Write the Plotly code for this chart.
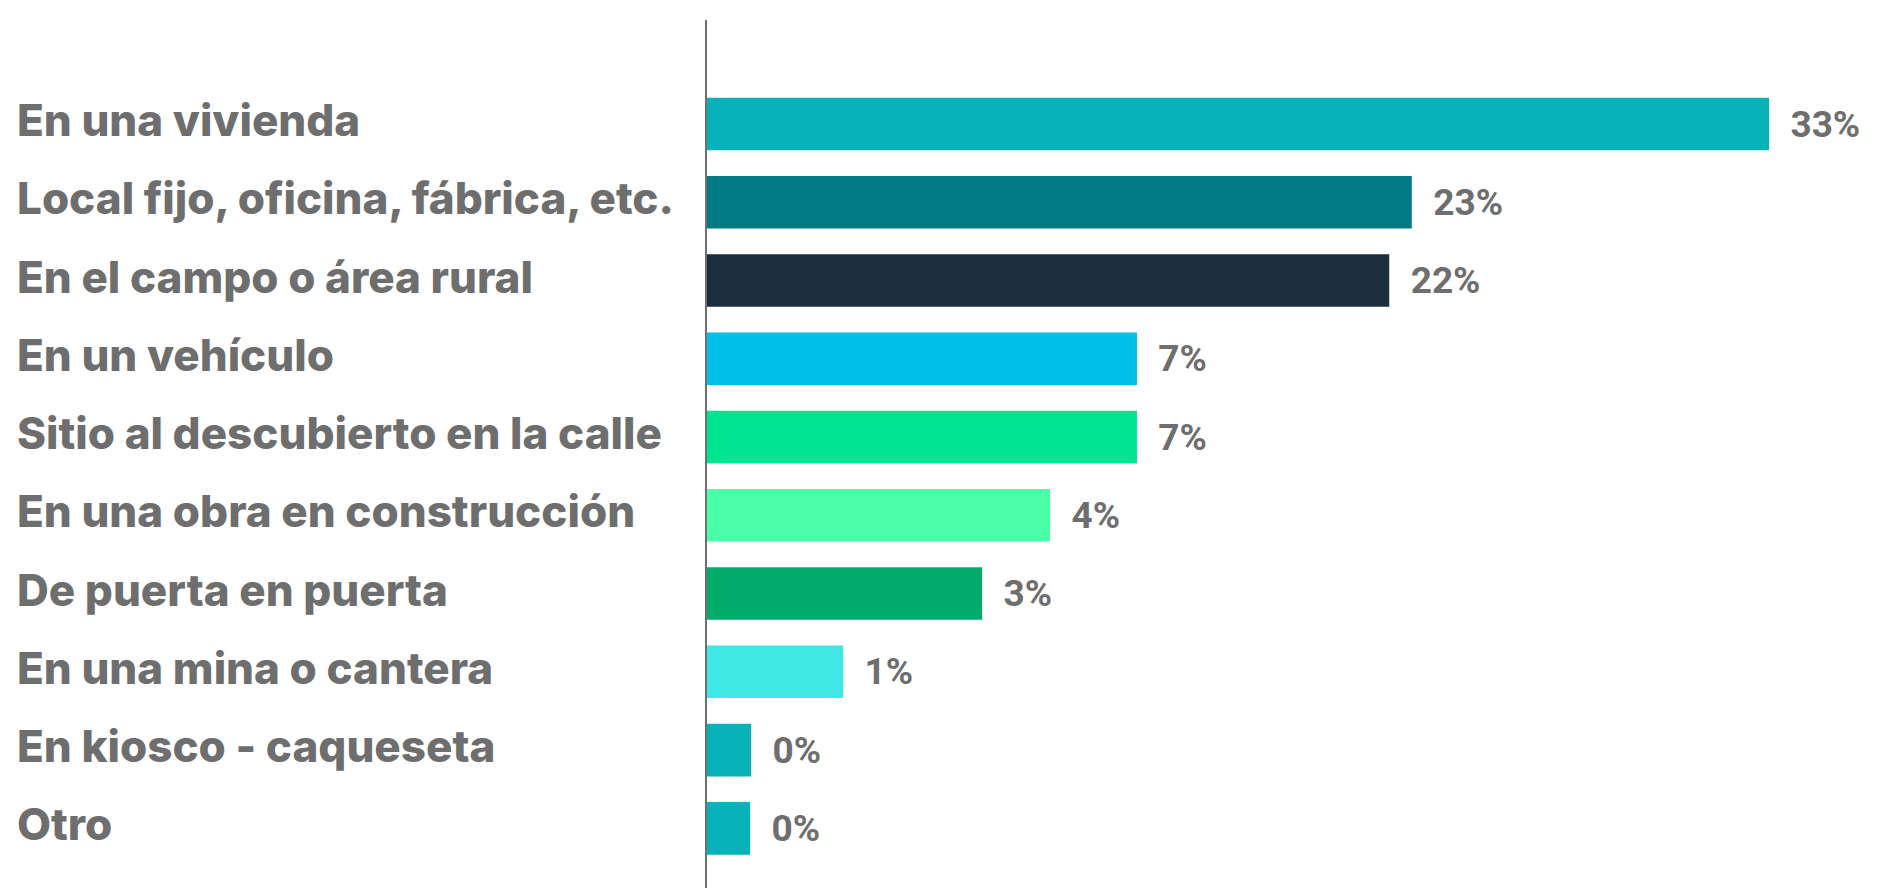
import plotly.graph_objects as go

# ---- data ----
categories = [
    "En una vivienda",
    "Local fijo, oficina, fábrica, etc.",
    "En el campo o área rural",
    "En un vehículo",
    "Sitio al descubierto en la calle",
    "En una obra en construcción",
    "De puerta en puerta",
    "En una mina o cantera",
    "En kiosco - caqueseta",
    "Otro",
]
# relative bar lengths as drawn in the reference (scaled so the longest is 33)
bar_lengths = [33.0, 21.9, 21.2, 13.36, 13.36, 10.66, 8.55, 4.23, 1.37, 1.34]
# value labels printed next to each bar
value_labels = ["33%", "23%", "22%", "7%", "7%", "4%", "3%", "1%", "0%", "0%"]

bar_colors = ["#07b3b9", "#007a84", "#1a2e3d", "#00bfe8", "#00e38f",
              "#4bffa8", "#04ac6c", "#3fe7e5", "#07b3b9", "#07b3b9"]

TEXT_COLOR = "#6e6e6e"
CAT_FONT = "Inter"
VAL_FONT = "Roboto"

W, H = 1881, 888
ML, MR, MT, MB = 707, 0, 20, 0
plot_w = W - ML - MR
plot_h = H - MT - MB

px_per_cat = 78.26
top_off = 104 / px_per_cat
y_top = -top_off
y_bottom = y_top + plot_h / px_per_cat

px_per_unit = 1062 / bar_lengths[0]
x_max = plot_w / px_per_unit

fig = go.Figure()
fig.add_trace(go.Bar(
    x=bar_lengths,
    y=categories,
    orientation="h",
    marker=dict(color=bar_colors, line=dict(width=0)),
    text=value_labels,
    textposition="outside",
    texttemplate="  %{text}",
    textfont=dict(family=VAL_FONT, size=37, color=TEXT_COLOR, weight=700),
    cliponaxis=False,
    constraintext="none",
    hoverinfo="skip",
))

for cat in categories:
    fig.add_annotation(
        x=(15 - ML) / plot_w, xref="paper", xanchor="left",
        y=cat, yref="y", yanchor="middle", yshift=4,
        text=cat, showarrow=False,
        font=dict(family=CAT_FONT, size=44, color=TEXT_COLOR, weight=800),
    )

fig.update_layout(
    width=W, height=H,
    margin=dict(l=ML, r=MR, t=MT, b=MB, pad=0),
    paper_bgcolor="white", plot_bgcolor="white",
    showlegend=False,
    bargap=0.328,
    xaxis=dict(range=[0, x_max], visible=False, fixedrange=True),
    yaxis=dict(
        type="category",
        categoryorder="array", categoryarray=categories,
        range=[y_bottom, y_top],
        showticklabels=False, ticks="",
        showgrid=False, zeroline=False,
        showline=True, linecolor="#707070", linewidth=2,
        fixedrange=True,
    ),
)

fig.write_html("out.html", config={"displayModeBar": False})
